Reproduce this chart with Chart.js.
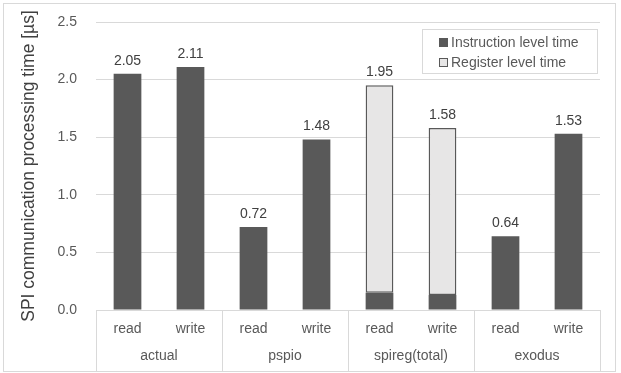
<!DOCTYPE html>
<html>
<head>
<meta charset="utf-8">
<script src="https://cdn.jsdelivr.net/npm/chart.js@4.4.0/dist/chart.umd.min.js"></script>
<style>
    html, body { margin: 0; padding: 0; background: #ffffff; }
    #wrap { width: 621px; height: 373px; position: relative; }
</style>
</head>
<body>
<div id="wrap"><canvas id="graphique_spi"></canvas></div>
<script>
// donnees
const categories = ['read', 'write', 'read', 'write', 'read', 'write', 'read', 'write'];
const groupes = ['actual', 'pspio', 'spireg(total)', 'exodus'];
const instruction_time = [2.05, 2.11, 0.72, 1.48, 0.15, 0.13, 0.64, 1.53];
const register_time = [null, null, null, null, 1.80, 1.45, null, null];
const y_min = 0, y_max = 2.5, y_step = 0.5;

const police = 'Liberation Sans, Arial, sans-serif';
const gris_ligne = '#d9d9d9';

// totaux au-dessus des barres
const etiquettesTotaux = {
    id: 'etiquettesTotaux',
    afterDatasetsDraw(chart) {
        const ctx = chart.ctx;
        ctx.save();
        ctx.font = '14px ' + police;
        ctx.fillStyle = '#404040';
        ctx.textAlign = 'center';
        ctx.textBaseline = 'bottom';
        categories.forEach(function (c, i) {
            let total = 0, haut = null, x = null;
            chart.data.datasets.forEach(function (ds, d) {
                const v = ds.data[i];
                if (v === null || v === undefined) return;
                total += v;
                const el = chart.getDatasetMeta(d).data[i];
                if (haut === null || el.y < haut) { haut = el.y; x = el.x; }
            });
            ctx.fillText(total.toFixed(2), x, haut - 6);
        });
        ctx.restore();
    }
};

// cadre, separateurs de groupes, legende
const decor = {
    id: 'decor',
    afterDraw(chart) {
        const ctx = chart.ctx;
        const area = chart.chartArea;
        const sx = chart.scales.x;
        ctx.save();
        ctx.strokeStyle = gris_ligne;
        ctx.lineWidth = 1;
        // separateurs sous l'axe
        for (let k = 0; k <= categories.length; k += 2) {
            const px = Math.round(sx.left + k * sx.width / categories.length) + 0.5;
            ctx.beginPath();
            ctx.moveTo(px, area.bottom);
            ctx.lineTo(px, 371);
            ctx.stroke();
        }
        // cadre exterieur
        ctx.strokeRect(3.5, 3.5, 612, 368);

        // legende
        const lx = 422.5, ly = 29.5, lw = 175, lh = 44;
        ctx.fillStyle = '#ffffff';
        ctx.fillRect(lx, ly, lw, lh);
        ctx.strokeRect(lx, ly, lw, lh);
        ctx.font = '14px ' + police;
        ctx.textAlign = 'left';
        ctx.textBaseline = 'middle';
        chart.data.datasets.forEach(function (ds, d) {
            const cy = 42 + d * 20;
            ctx.fillStyle = ds.backgroundColor;
            ctx.fillRect(439, cy - 4, 9, 9);
            if (ds.borderWidth) {
                ctx.strokeStyle = ds.borderColor;
                ctx.strokeRect(439.5, cy - 3.5, 8, 8);
            }
            ctx.fillStyle = '#595959';
            ctx.fillText(ds.label, 451, cy + 1);
        });
        ctx.restore();
    }
};

let graphique_spi = new Chart(document.getElementById('graphique_spi').getContext('2d'), {
    type: 'bar',
    data: {
        labels: categories,
        datasets: [{
            label: 'Instruction level time',
            backgroundColor: '#595959',
            borderWidth: 0,
            data: instruction_time
        }, {
            label: 'Register level time',
            backgroundColor: '#e7e6e6',
            borderColor: '#595959',
            borderWidth: 1.5,
            borderSkipped: false,
            data: register_time
        }]
    },
    options: {
        responsive: true,
        maintainAspectRatio: false,
        animation: false,
        categoryPercentage: 1,
        barPercentage: 0.44,
        layout: { padding: { left: 6, right: 21, top: 22, bottom: 3 } },
        plugins: {
            legend: { display: false },
            tooltip: { enabled: false }
        },
        scales: {
            x: {
                stacked: true,
                grid: { display: false, drawTicks: false },
                border: { display: false },
                ticks: { color: '#595959', font: { family: police, size: 14 }, padding: 11 },
                afterFit: function (s) { s.height = 30; }
            },
            x2: {
                type: 'category',
                labels: groupes,
                position: 'bottom',
                grid: { display: false, drawTicks: false },
                border: { display: false },
                ticks: { color: '#595959', font: { family: police, size: 14 }, padding: 8 },
                afterFit: function (s) { s.height = 30; }
            },
            y: {
                stacked: true,
                min: y_min,
                max: y_max,
                grid: { color: gris_ligne, drawTicks: false },
                border: { display: false },
                ticks: {
                    stepSize: y_step,
                    padding: 19,
                    color: '#595959',
                    font: { family: police, size: 14 },
                    callback: function (v) { return v.toFixed(1); }
                },
                title: {
                    display: true,
                    text: 'SPI communication processing time [µs]',
                    color: '#404040',
                    font: { family: police, size: 17.5 },
                    padding: { top: 13, bottom: 0 }
                },
                afterFit: function (s) {
                    s.width = 90;
                    s.paddingTop = 0;
                    s.paddingBottom = 0;
                }
            }
        }
    },
    plugins: [etiquettesTotaux, decor]
});
</script>
</body>
</html>
